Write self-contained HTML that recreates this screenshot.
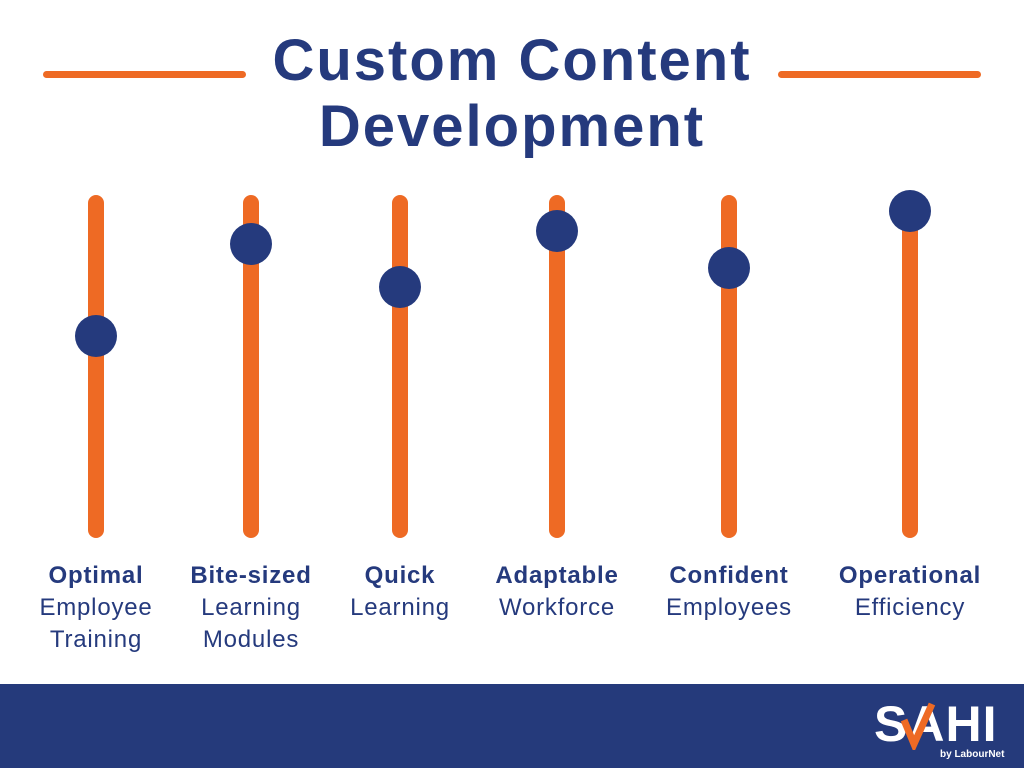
<!DOCTYPE html>
<html><head><meta charset="utf-8"><style>
body{margin:0;width:1024px;height:768px;background:#fff;position:relative;overflow:hidden;font-family:"Liberation Sans",sans-serif;color:#253a7d}
.t{position:absolute;left:0;width:1024px;text-align:center;font-weight:bold;font-size:58px;line-height:58px;letter-spacing:2px}
.hl{position:absolute;top:71px;height:7px;background:#ee6a24;border-radius:4px}
.bar{position:absolute;top:195px;height:343px;width:16px;margin-left:-8px;background:#ee6a24;border-radius:8px}
.dot{position:absolute;width:42px;height:42px;margin:-21px 0 0 -21px;border-radius:50%;background:#253a7d}
.lab{position:absolute;top:560px;width:180px;margin-left:-90px;text-align:center;font-size:24px;line-height:32px;letter-spacing:0.8px}
.lab b{display:block}
</style></head><body>
<div class="hl" style="left:43px;width:203px"></div>
<div class="hl" style="left:778px;width:203px"></div>
<div class="t" style="top:32px">Custom Content</div>
<div class="t" style="top:98px">Development</div>

<div class="bar" style="left:96px"></div><div class="dot" style="left:96px;top:336px"></div>
<div class="bar" style="left:251px"></div><div class="dot" style="left:251px;top:244px"></div>
<div class="bar" style="left:400px"></div><div class="dot" style="left:400px;top:287px"></div>
<div class="bar" style="left:557px"></div><div class="dot" style="left:557px;top:231px"></div>
<div class="bar" style="left:729px"></div><div class="dot" style="left:729px;top:268px"></div>
<div class="bar" style="left:910px"></div><div class="dot" style="left:910px;top:211px"></div>

<div class="lab" style="left:96px"><b>Optimal</b>Employee<br>Training</div>
<div class="lab" style="left:251px"><b>Bite-sized</b>Learning<br>Modules</div>
<div class="lab" style="left:400px"><b>Quick</b>Learning</div>
<div class="lab" style="left:557px"><b>Adaptable</b>Workforce</div>
<div class="lab" style="left:729px"><b>Confident</b>Employees</div>
<div class="lab" style="left:910px"><b>Operational</b>Efficiency</div>

<div style="position:absolute;left:0;top:684px;width:1024px;height:84px;background:#253a7b"></div>
<div style="position:absolute;left:874px;top:698px;color:#fff;font-weight:bold;font-size:50px;line-height:52px;letter-spacing:1px">SAHI</div>
<svg style="position:absolute;left:898px;top:700px" width="40" height="50"><path d="M6 20 L16 44 L34 4" stroke="#ee6a24" stroke-width="7" fill="none"/></svg>
<div style="position:absolute;left:940px;top:749px;color:#fff;font-size:10px;font-weight:bold">by LabourNet</div>
</body></html>
